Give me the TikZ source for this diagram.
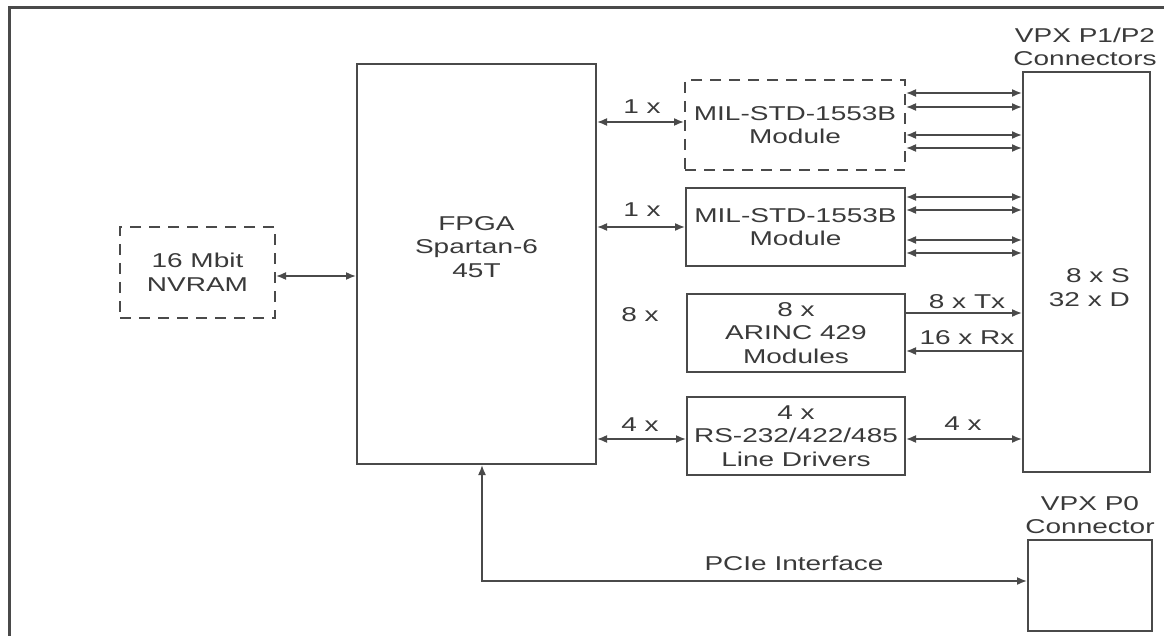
\documentclass[tikz,border=0pt]{standalone}
\usepackage{fontspec}
\setmainfont[FakeStretch=1.4]{Liberation Sans}
\usetikzlibrary{arrows.meta}
\definecolor{ln}{HTML}{4A4A4A}
\definecolor{tx}{HTML}{3A3A3A}
\begin{document}
\begin{tikzpicture}[x=1pt,y=-1pt,
  every node/.style={font=\fontsize{20}{23.5}\selectfont, text=tx},
  blk/.style={draw=ln, line width=2pt, inner sep=0pt, align=center},
  dblk/.style={blk, dash pattern=on 11pt off 8pt},
  arr/.style={draw=ln, line width=1.6pt, -{Latex[length=10pt,width=8pt]}},
  dbl/.style={draw=ln, line width=1.6pt, {Latex[length=10pt,width=8pt]}-{Latex[length=10pt,width=8pt]}},
  lbl/.style={inner sep=0pt}]
\useasboundingbox (0,0) rectangle (1164,636);
\draw[ln, line width=2.5pt] (1164,7.5) -- (9.5,7.5) -- (9.5,636);

\node[dblk, minimum width=155pt, minimum height=91pt] (nvram) at (197.5,272.5) {16 Mbit\\NVRAM};
\node[blk, minimum width=239pt, minimum height=400pt] (fpga) at (476.5,264) {};
\node[lbl, align=center] (fpgatxt) at (476.5,247) {FPGA\\Spartan-6\\45T};
\node[dblk, minimum width=220pt, minimum height=90pt] (mil1) at (795,125) {MIL-STD-1553B\\Module};
\node[blk, minimum width=219pt, minimum height=78pt] (mil2) at (795.5,227) {MIL-STD-1553B\\Module};
\node[blk, minimum width=218pt, minimum height=78pt] (arinc) at (796,333) {8 x\\ARINC 429\\Modules};
\node[blk, minimum width=218pt, minimum height=78pt] (rs) at (796,436) {4 x\\RS-232/422/485\\Line Drivers};
\node[blk, minimum width=127pt, minimum height=400pt] (vpx) at (1086.5,272) {};
\node[lbl, align=right, anchor=east] (vpxtxt) at (1130,287.5) {8 x S\\32 x D};
\node[lbl, align=center] (vpxlbl) at (1085,47) {VPX P1/P2\\Connectors};
\node[blk, minimum width=124pt, minimum height=91pt] (vpx0) at (1090,585.5) {};
\node[lbl, align=center] (vpx0lbl) at (1090,515) {VPX P0\\Connector};

\node[lbl] (l1) at (642,107) {1 x};
\node[lbl] (l2) at (642,210) {1 x};
\node[lbl] (l3) at (640,315) {8 x};
\node[lbl] (l4) at (640,425) {4 x};
\node[lbl] (l5) at (963,424) {4 x};
\node[lbl] (ltx) at (967,302) {8 x Tx};
\node[lbl] (lrx) at (967,338) {16 x Rx};
\node[lbl] (lpcie) at (794,563) {PCIe Interface};

\draw[dbl] (nvram.east |- 0,276) -- (fpga.west |- 0,276);
\draw[dbl] (fpga.east |- 0,122) -- (mil1.west |- 0,122);
\draw[dbl] (fpga.east |- 0,227) -- (mil2.west);
\draw[dbl] (fpga.east |- 0,439) -- (rs.west |- 0,439);
\draw[dbl] (rs.east |- 0,439) -- (vpx.west |- 0,439);
\foreach \y in {93,107,135,148} \draw[dbl] (mil1.east |- 0,\y) -- (vpx.west |- 0,\y);
\foreach \y in {197,210,240,253} \draw[dbl] (mil2.east |- 0,\y) -- (vpx.west |- 0,\y);
\draw[arr] (arinc.east |- 0,313) -- (vpx.west |- 0,313);
\draw[arr] (vpx.west |- 0,351) -- (arinc.east |- 0,351);
\draw[dbl] (fpga.south -| 482,0) |- (vpx0.west |- 0,581);
\end{tikzpicture}
\end{document}
